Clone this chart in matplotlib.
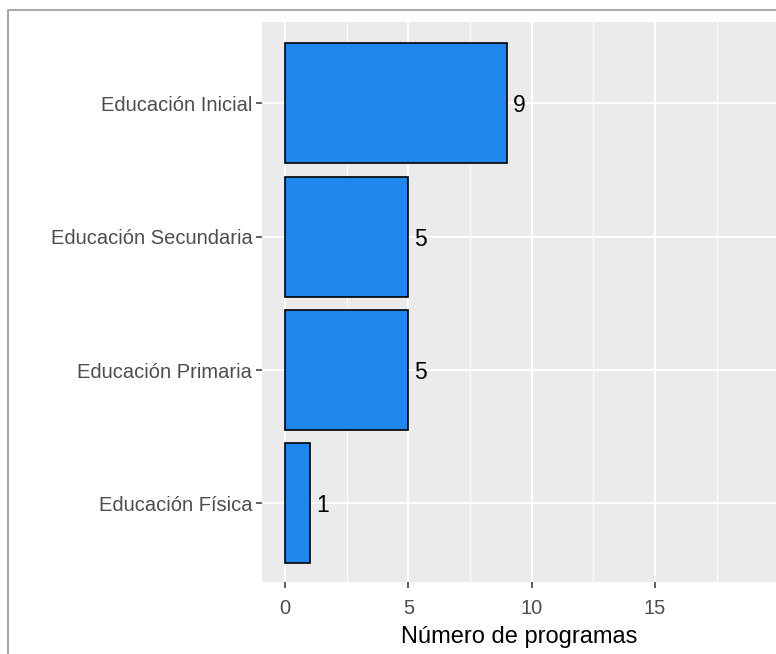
import matplotlib.pyplot as plt
from matplotlib.lines import Line2D

plt.rcParams['font.family'] = ['Liberation Sans', 'DejaVu Sans']

# data (bottom to top)
categorias = ["Educación Física", "Educación Primaria", "Educación Secundaria", "Educación Inicial"]
programas = [1, 5, 5, 9]
x_ticks = [0, 5, 10, 15]
x_minor = [2.5, 7.5, 12.5, 17.5]

fig = plt.figure(figsize=(7.76, 6.54), dpi=100)
ax = fig.add_axes([262 / 776, 72 / 654, 1 - 262 / 776, 560 / 654])
ax.set_facecolor('#ebebeb')

pos = list(range(1, len(categorias) + 1))
ax.barh(pos, programas, height=0.9, color='#1e86ec', edgecolor='black',
        linewidth=1.2, zorder=3)
for y, v in zip(pos, programas):
    ax.text(v + 0.25, y, str(v), ha='left', va='center_baseline', fontsize=16.5,
            color='black', zorder=4)

ax.set_xlim(-0.93, 19.9)
ax.set_ylim(0.41, 4.61)
ax.set_yticks(pos)
ax.set_yticklabels(categorias)
ax.set_xticks(x_ticks)
ax.set_xticks(x_minor, minor=True)

ax.grid(True, which='major', color='white', linewidth=1.5, zorder=0)
ax.grid(True, which='minor', axis='x', color='white', linewidth=0.8, zorder=0)
ax.set_axisbelow(True)

for s in ax.spines.values():
    s.set_visible(False)
ax.tick_params(axis='both', which='major', length=4, width=1.1, color='#333333',
               labelcolor='#4d4d4d', labelsize=14.5, pad=3)
ax.tick_params(axis='x', which='major', pad=8)
ax.tick_params(axis='x', which='minor', length=0)
ax.set_xlabel('Número de programas', fontsize=17, color='black', labelpad=6)

# outer frame lines like the screenshot
fig.add_artist(Line2D([8 / 776, 8 / 776, 1], [0, 1 - 10 / 654, 1 - 10 / 654],
                      transform=fig.transFigure, color='#aaaaaa', linewidth=1.5))

fig.savefig('out.png', dpi=100)
